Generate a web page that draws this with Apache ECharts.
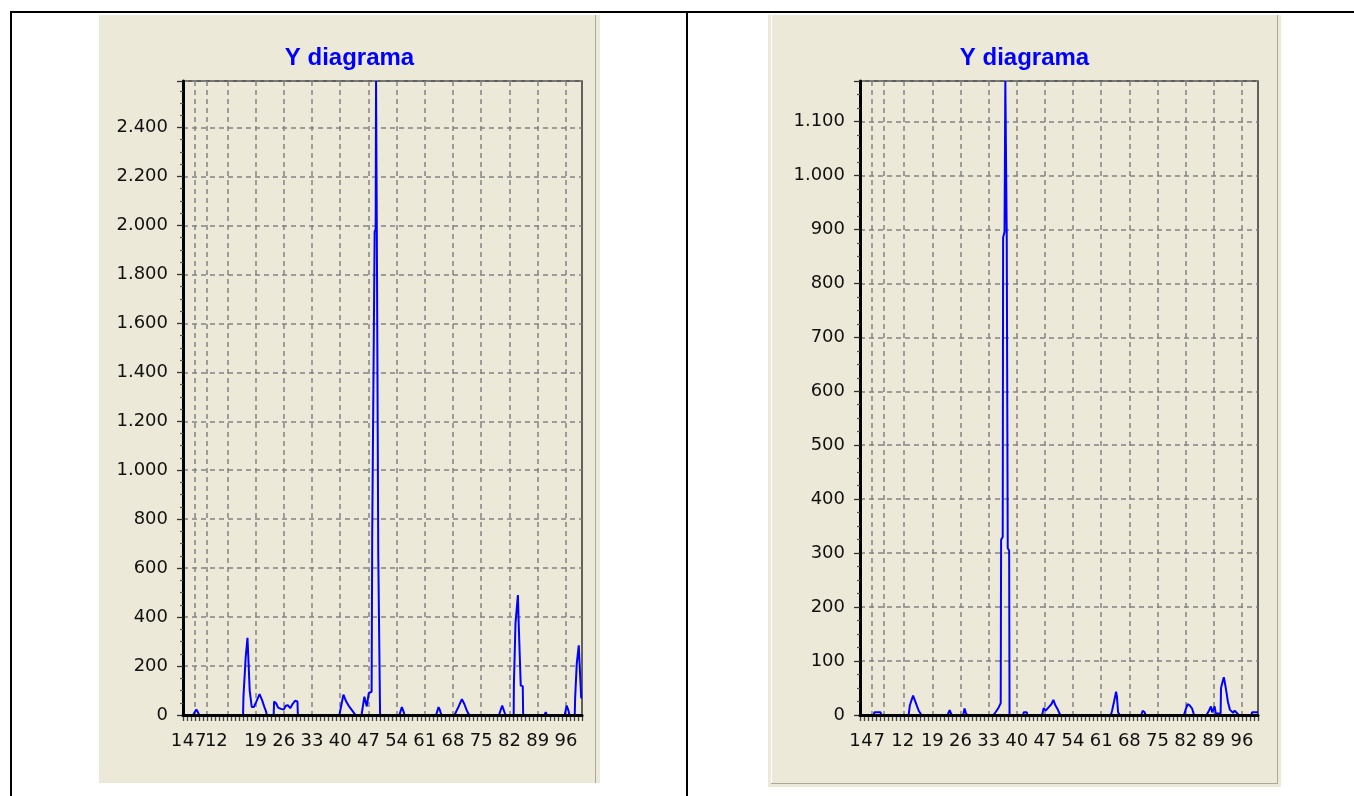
<!DOCTYPE html>
<html>
<head>
<meta charset="utf-8">
<script src="https://cdn.jsdelivr.net/npm/echarts@6/dist/echarts.min.js"></script>
<style>
  html, body { margin: 0; padding: 0; background: #ffffff; width: 1354px; height: 796px; overflow: hidden; }
  .abs { position: absolute; }
  .ln { position: absolute; background: #000; }
  .panel { position: absolute; background: #ECE9D8; }
</style>
</head>
<body>
<!-- table borders -->
<div class="ln" style="left:10px;top:11px;width:1344px;height:2px;"></div>
<div class="ln" style="left:10px;top:11px;width:2px;height:785px;"></div>
<div class="ln" style="left:686px;top:11px;width:2px;height:785px;"></div>

<!-- left panel -->
<div class="panel" style="left:99px;top:15px;width:501px;height:768px;"></div>
<div class="abs" style="left:595px;top:15px;width:1px;height:768px;background:#ACA899;"></div>
<div id="chartL" class="abs" style="left:99px;top:15px;width:501px;height:768px;"></div>

<!-- right panel -->
<div class="panel" style="left:768px;top:15px;width:513px;height:772px;"></div>
<div class="abs" style="left:771px;top:15px;width:1px;height:769px;background:#ffffff;"></div>
<div class="abs" style="left:771px;top:783px;width:507px;height:1px;background:#ACA899;"></div>
<div class="abs" style="left:1277px;top:15px;width:1px;height:769px;background:#ACA899;"></div>
<div id="chartR" class="abs" style="left:768px;top:15px;width:513px;height:772px;"></div>

<script>
// ---------- data ----------
const xCategories = Array.from({ length: 100 }, (_, i) => String(i + 1));
const xTickLabels = [1, 4, 7, 12, 19, 26, 33, 40, 47, 54, 61, 68, 75, 82, 89, 96];
const xGridLines = [4, 7, 12, 19, 26, 33, 40, 47, 54, 61, 68, 75, 82, 89, 96];

const titleText = 'Y diagrama';

const leftMax = 2590;
const leftInterval = 200;
const leftX = [1, 3.5, 4.3, 4.7, 5.0,
  15.9, 16.0, 16.45, 16.55, 16.85, 17.0, 17.2, 17.45, 17.55, 17.9, 18.05, 18.6, 19.2, 20.0, 20.6, 21.2, 21.6, 21.8,
  23.5, 23.6, 24.1, 24.6, 25.3, 26.0, 26.5, 27.0, 27.6, 28.2, 28.8, 29.4, 29.5,
  39.8, 40.8, 41.5, 42.3, 43.0, 43.8,
  45.3, 46.0, 46.6, 47.1, 47.8, 47.95, 48.4, 48.55, 48.8, 48.9, 49.1, 49.35, 49.45, 49.8, 49.9,
  54.7, 55.3, 55.6, 56.0,
  63.8, 64.4, 64.7, 65.1,
  68.4, 68.8, 69.4, 70.2, 70.8, 71.5, 72.0,
  79.4, 80.2, 80.6, 81.0,
  83.05, 83.1, 83.4, 83.5, 83.9, 84.1, 84.3, 84.7, 84.8, 85.3, 85.4,
  90.7, 91.0, 91.3,
  95.7, 96.2, 96.6, 96.9,
  98.2, 98.3, 98.6, 98.7, 98.9, 99.2, 99.4, 99.7, 99.8, 100];
const leftY = [0, 0, 22, 12, 0,
  0, 75, 75, 235, 238, 315, 238, 235, 100, 98, 33, 33, 55, 85, 62, 32, 15, 0,
  0, 55, 48, 30, 25, 22, 38, 40, 28, 45, 58, 55, 0,
  0, 83, 55, 33, 18, 0,
  0, 75, 35, 90, 95, 740, 745, 1975, 1985, 2590, 1950, 1945, 650, 650, 0,
  0, 32, 20, 0,
  0, 32, 22, 0,
  0, 15, 35, 65, 45, 15, 0,
  0, 38, 30, 0,
  0, 122, 125, 375, 378, 490, 370, 368, 120, 118, 0,
  0, 12, 0,
  0, 38, 20, 0,
  0, 70, 70, 210, 210, 285, 210, 208, 70, 70];

const rightMax = 1175;
const rightInterval = 100;
const rightX = [1, 4.4, 4.6, 6.1, 6.3,
  13.1, 13.4, 14.2, 14.6, 15.2, 15.6, 16.3,
  22.8, 23.3, 23.8,
  26.7, 27.0, 27.3, 27.6,
  34.2, 34.8, 35.5, 36.0, 36.1, 36.5, 36.6, 36.95, 37.15, 37.5, 37.6, 37.75, 38.1, 38.2,
  41.6, 41.7, 42.5, 42.6,
  46.3, 46.7, 47.2, 47.5, 48.0, 48.6, 49.1, 49.6, 50.2, 50.8,
  61.5, 61.7, 62.0, 63.4, 63.7, 64.2, 64.7, 64.9, 65.1, 65.2, 65.6,
  71.0, 71.3, 71.5, 71.8, 72.0,
  81.6, 82.0, 82.5, 83.0, 83.6, 84.1,
  87.2, 87.8, 88.3, 88.6, 89.0, 89.2, 89.5, 90.7, 90.8, 91.2, 91.5, 91.8, 92.2, 92.5, 93.0, 93.4, 93.8, 94.2, 94.6, 95.2,
  98.4, 98.5, 100];
const rightY = [0, 0, 5, 5, 0,
  0, 18, 36, 28, 16, 8, 0,
  0, 9, 0,
  0, 12, 5, 0,
  0, 6, 14, 22, 325, 330, 885, 895, 1175, 888, 885, 309, 305, 0,
  0, 5, 5, 0,
  0, 13, 8, 5, 15, 20, 28, 18, 10, 0,
  0, 3, 0, 0, 8, 25, 43, 35, 33, 5, 0,
  0, 8, 11, 5, 0,
  0, 10, 20, 18, 12, 0,
  0, 8, 16, 5, 12, 16, 3, 3, 50, 62, 70, 58, 40, 25, 10, 8, 4, 8, 5, 0,
  0, 5, 5];

// ---------- styling ----------
const labelFont = 'DejaVu Sans';
const labelSize = 18;
const labelColor = '#111111';

function fmtThousands(v) {
  if (v >= 1000) {
    const t = Math.floor(v / 1000);
    const r = String(v % 1000).padStart(3, '0');
    return t + '.' + r;
  }
  return String(v);
}

function makeOption(xs, ys, yMax, yInterval, grid, labelShift) {
  const rich = {};
  Object.keys(labelShift).forEach(k => {
    rich['p' + k] = {
      fontFamily: labelFont, fontSize: labelSize, color: labelColor,
      padding: [0, Math.max(0, -2 * labelShift[k]), 0, 0]
    };
  });
  const dashed = { color: '#838383', width: 1.5, type: [5, 4] };
  return {
    animation: false,
    backgroundColor: 'transparent',
    title: {
      text: titleText,
      left: 'center',
      top: 31,
      padding: 0,
      textStyle: { fontFamily: 'Liberation Sans', fontWeight: 'bold', fontSize: 24, color: '#0000ff' }
    },
    grid: Object.assign({ show: true, borderColor: '#333', borderWidth: 1.5, backgroundColor: 'transparent', containLabel: false }, grid),
    xAxis: [
      {
        type: 'category',
        position: 'bottom',
        data: xCategories,
        boundaryGap: false,
        axisLine: { show: false },
        axisTick: { show: true, interval: 0, length: 6, lineStyle: { color: '#444', width: 1.3 } },
        axisLabel: {
          show: true,
          interval: 0,
          hideOverlap: false,
          margin: 17,
          fontFamily: labelFont, fontSize: labelSize, color: labelColor,
          formatter: (val) => {
            if (!xTickLabels.includes(Number(val))) return '';
            return labelShift[val] !== undefined ? '{p' + val + '|' + val + '}' : val;
          },
          rich: rich
        },
        splitLine: {
          show: true,
          interval: (idx, val) => xGridLines.includes(Number(val)),
          lineStyle: dashed
        }
      },
      {
        type: 'value',
        position: 'bottom',
        min: 1, max: 100,
        z: 5,
        axisLine: { show: true, onZero: false, lineStyle: { color: '#000', width: 3 } },
        axisTick: { show: false },
        axisLabel: { show: false },
        splitLine: { show: false }
      }
    ],
    yAxis: {
      type: 'value',
      min: 0, max: yMax, interval: yInterval,
      axisLine: { show: true, lineStyle: { color: '#000', width: 3 } },
      axisTick: { show: true, length: 6, lineStyle: { color: '#333', width: 1.3 } },
      minorTick: { show: true, splitNumber: 4, length: 3, lineStyle: { color: '#555', width: 1.2 } },
      axisLabel: {
        margin: 15, showMaxLabel: false,
        fontFamily: labelFont, fontSize: labelSize, color: labelColor,
        formatter: fmtThousands
      },
      splitLine: { show: true, lineStyle: dashed }
    },
    series: [{
      type: 'line',
      xAxisIndex: 1,
      data: xs.map((x, i) => [x, ys[i]]),
      showSymbol: false,
      symbol: 'none',
      lineStyle: { color: '#0000ff', width: 2 },
      z: 2
    }]
  };
}

const chartL = echarts.init(document.getElementById('chartL'), null, { renderer: 'canvas' });
chartL.setOption(makeOption(leftX, leftY, leftMax, leftInterval,
  { left: 84, right: 18, top: 66, bottom: 68 },
  { '1': -6.5, '4': -6.5, '7': -6.5, '12': -11 }));

const chartR = echarts.init(document.getElementById('chartR'), null, { renderer: 'canvas' });
chartR.setOption(makeOption(rightX, rightY, rightMax, rightInterval,
  { left: 92, right: 23, top: 66, bottom: 72 },
  { '1': -5, '4': -5, '7': -5, '12': -1.5 }));
</script>
</body>
</html>
